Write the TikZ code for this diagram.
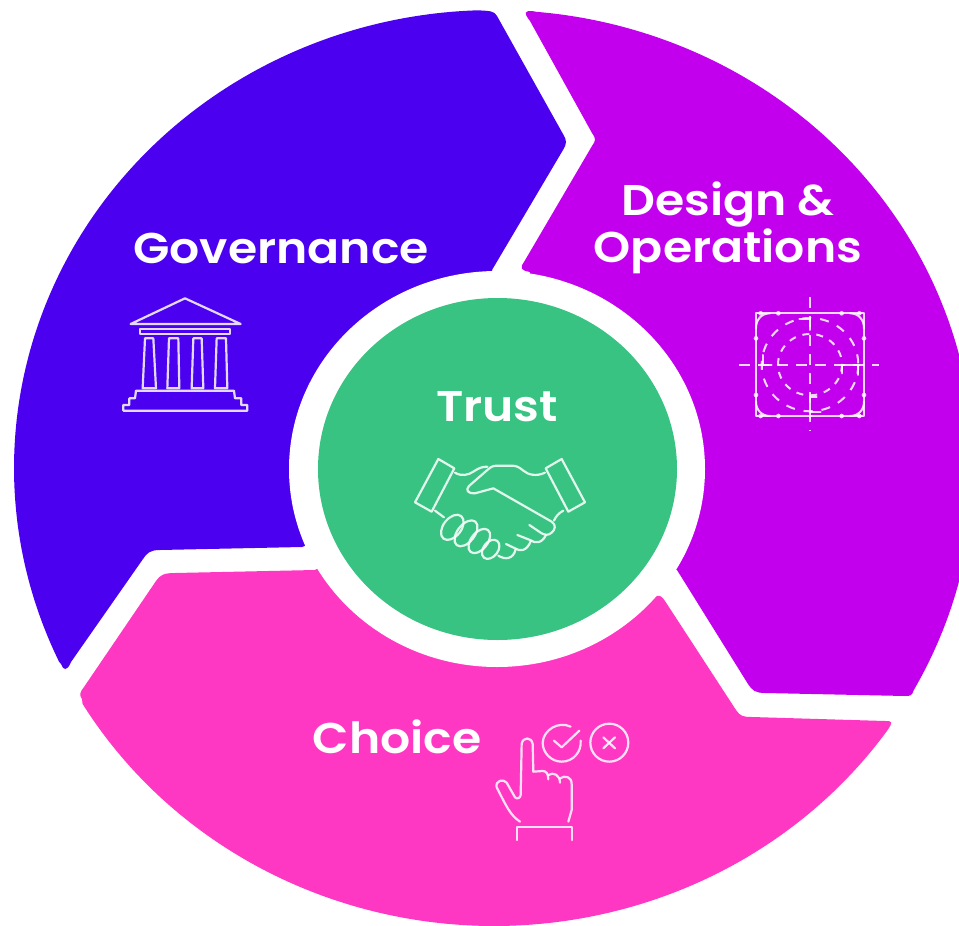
\documentclass[tikz,border=0pt]{standalone}
\usepackage{fontspec}
\setmainfont[FakeStretch=1.1,BoldFont={Poppins SemiBold}]{Poppins}
\definecolor{blueseg}{HTML}{4B00F0}
\definecolor{purpseg}{HTML}{C200EE}
\definecolor{pinkseg}{HTML}{FF38C4}
\definecolor{greenc}{HTML}{38C382}
\tikzset{
 seglabel/.style={text=white,font=\fontsize{43}{46}\selectfont\bfseries,align=center,inner sep=0pt},
 icon/.style={draw=white,line width=2.2pt,line join=round,line cap=round,draw opacity=.85,fill=none},
 thinicon/.style={icon,line width=2pt},
 zoomA/.style={shift={(100,270)},x=.3333pt,y=-.3333pt},
 zoomB/.style={shift={(720,280)},x=.3333pt,y=-.3333pt},
 zoomC/.style={shift={(400,440)},x=.3333pt,y=-.3333pt},
 zoomD/.style={shift={(480,710)},x=.3333pt,y=-.3333pt},
}
\begin{document}
\begin{tikzpicture}[x=1pt,y=-1pt]
\useasboundingbox[fill=white] (0,0) rectangle (959,926);
\clip (0,0) rectangle (959,926);
% blue
\fill[blueseg] (71,662) .. controls (67,672) and (63,670) .. (61,664)
  -- plot[domain=155:268,samples=70,smooth] ({494+480*cos(\x)},{468+458*sin(\x)})
  .. controls (491,11) and (494,11) .. (497,16)
  -- (563,134) .. controls (567,141) and (567,143) .. (563,150)
  -- (492,270) -- (497,469) -- (302,547) -- (160,550) .. controls (150,550) and (147,553) .. (143,559) -- cycle;
% purple
\fill[purpseg] (530,21) .. controls (523,12) and (525,11) .. (532,11)
  -- plot[domain=275:389,samples=70,smooth] ({494+480*cos(\x)},{468+458*sin(\x)})
  .. controls (912,696) and (910,696) .. (905,696)
  -- (765,693) .. controls (755,693) and (752,690) .. (748,684)
  -- (677,570) -- (497,469) -- (530,272) .. controls (520,270) and (520,268) .. (524,262)
  -- (592,146) .. controls (596,140) and (596,139) .. (592,133) -- cycle;
% pink
\fill[pinkseg] (315,570) -- (175,573) .. controls (164,573) and (160,575) .. (156,581)
  -- (84,687) .. controls (80,692) and (79,695) .. (82,699)
  -- plot[domain=149:35,samples=70,smooth] ({494+480*cos(\x)},{468+458*sin(\x)})
  .. controls (893,722) and (893,721) .. (885,721)
  -- (752,717) .. controls (743,717) and (740,716) .. (736,710)
  -- (665,601) .. controls (661,595) and (658,594) .. (654,598)
  -- (497,469) -- cycle;
% centre
\fill[white] (497,469) ellipse [x radius=208,y radius=198];
\fill[greenc] (497.5,469) ellipse [x radius=179.5,y radius=171];
% labels
\node[seglabel] (gov) at (281,248) {Governance};
\node[seglabel] (des) at (728,205) {Design \&};
\node[seglabel] (ops) at (728,251) {Operations};
\node[seglabel] (tru) at (497,407) {Trust};
\node[seglabel] (cho) at (397,737) {Choice};
% temple
\begin{scope}[zoomA]
\draw[icon] (92,162) -- (255,85) -- (422,162) -- cycle;
\draw[icon] (120,176) rectangle (390,192);
\foreach \a/\b/\c/\d in {135/160/128/168,207/235/202/238,280/305/275/310,350/378/345/382}
  \draw[icon] (\a,205) -- (\b,205) -- (\d,355) -- (\c,355) -- cycle;
\draw[icon] (108,362) -- (402,362) -- (405,385) -- (424,385) -- (424,405) -- (442,405) -- (442,422)
  -- (70,422) -- (70,405) -- (88,405) -- (88,385) -- (105,385) -- cycle;
\end{scope}
% design icon
\begin{scope}[zoomB]
\draw[thinicon] (108,100) rectangle (432,408);
\draw[thinicon] (150,100) .. controls (125,100) and (108,118) .. (108,145);
\draw[thinicon] (390,100) .. controls (415,100) and (432,118) .. (432,145);
\draw[thinicon] (150,408) .. controls (125,408) and (108,390) .. (108,365);
\draw[thinicon] (390,408) .. controls (415,408) and (432,390) .. (432,365);
\foreach \px/\py in {175/100,365/100,175/408,365/408,108/175,432/175,108/345,432/345,122/100,418/100,122/408,418/408}
  \fill[white,opacity=.8] (\px,\py) circle [radius=7];
\draw[thinicon,line cap=butt,dash pattern=on 11pt off 8pt] (58,256) -- (478,256);
\draw[thinicon,line cap=butt,dash pattern=on 11pt off 8pt] (270,52) -- (270,452);
\draw[thinicon,line cap=butt,dash pattern=on 9pt off 9pt] (270,254) ellipse [x radius=145,y radius=140];
\draw[thinicon,line cap=butt,dash pattern=on 7pt off 7pt] (270,254) ellipse [x radius=96,y radius=92];
\draw[thinicon] (238,118) -- (270,118) -- (270,150);
\draw[thinicon] (128,225) -- (128,256) -- (155,256);
\draw[thinicon] (365,280) -- (365,256) -- (415,256) -- (415,285);
\draw[thinicon] (302,395) -- (270,395) -- (270,350) -- (290,350);
\end{scope}
% handshake
\begin{scope}[zoomC]
\draw[icon] (115,57) -- (163,85) -- (95,215) -- (45,187) -- cycle;
\draw[icon] (485,57) -- (437,85) -- (505,215) -- (555,187) -- cycle;
\draw[icon] (165,98) .. controls (185,110) and (205,105) .. (220,95) .. controls (235,85) and (245,80) .. (262,80);
\draw[icon] (435,98) .. controls (410,110) and (385,105) .. (370,92) .. controls (358,82) and (350,77) .. (335,77)
  -- (290,77) .. controls (275,77) and (268,85) .. (262,90)
  -- (207,138) .. controls (195,150) and (205,162) .. (225,160)
  -- (280,145) -- (455,245) .. controls (470,255) and (465,270) .. (455,278)
  .. controls (445,287) and (435,285) .. (425,280) -- (388,255);
\draw[icon] (438,285) .. controls (425,312) and (405,310) .. (390,300) -- (352,285);
\draw[icon] (393,302) .. controls (380,335) and (360,335) .. (345,325) -- (318,312);
\draw[icon] (347,328) .. controls (340,358) and (315,360) .. (295,347);
\draw[icon] (105,212) -- (132,232);
\draw[icon] (490,212) .. controls (478,218) and (468,228) .. (462,242);
\draw[icon] (157,262) ellipse [x radius=27,y radius=43,rotate=-38];
\draw[icon] (198,280) ellipse [x radius=26,y radius=45,rotate=-38];
\draw[icon] (238,303) ellipse [x radius=25,y radius=42,rotate=-38];
\draw[icon] (272,328) ellipse [x radius=22,y radius=32,rotate=-38];
\end{scope}
% choice icon
\begin{scope}[zoomD]
\draw[icon] (120,335) .. controls (90,315) and (80,290) .. (50,232) .. controls (45,212) and (70,205) .. (80,218)
  -- (105,262) .. controls (112,270) and (122,262) .. (122,255) -- (125,102) .. controls (128,80) and (155,80) .. (158,102)
  -- (160,185) -- (188,183) .. controls (198,183) and (205,190) .. (205,208);
\draw[icon] (205,195) .. controls (220,185) and (240,195) .. (240,218);
\draw[icon] (240,205) .. controls (255,195) and (275,200) .. (275,222) -- (275,300) -- (265,335);
\draw[icon] (110,390) -- (110,352) -- (275,352) -- (275,390);
\draw[icon] (272,50) .. controls (235,32) and (190,60) .. (188,98) .. controls (188,130) and (215,155) .. (245,155)
  .. controls (280,155) and (305,125) .. (302,92);
\draw[icon] (222,92) -- (245,112) -- (298,62);
\draw[icon] (388,98) ellipse [x radius=57,y radius=57];
\draw[icon] (370,82) -- (405,115);
\draw[icon] (405,82) -- (370,115);
\end{scope}
\end{tikzpicture}
\end{document}
